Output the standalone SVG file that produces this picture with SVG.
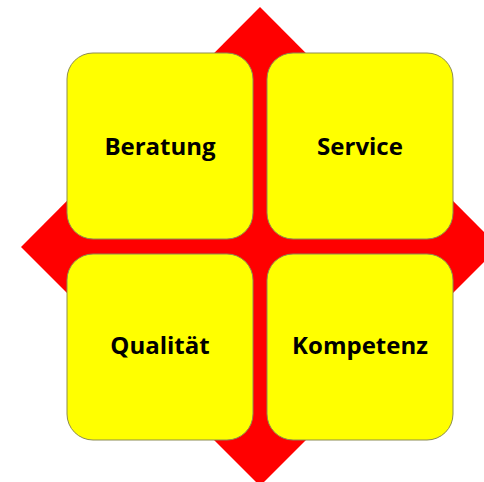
<svg xmlns="http://www.w3.org/2000/svg" width="484" height="482" viewBox="0 0 484 482">
<style>
.box{fill:#ffff00;stroke:#8c8c50;stroke-width:1}
.lbl{font-family:"Open Sans","Liberation Sans",sans-serif;font-weight:bold;font-size:24px;fill:#000;text-anchor:middle}
</style>
<rect width="484" height="482" fill="#fff"/>
<g id="diamond"><polygon points="260,7 499,247 260,486 21,247" fill="#ff0000"/></g>
<g id="connectors"></g>
<g id="beratung"><rect class="box" x="67" y="53" width="186" height="186" rx="26"/><text class="lbl" x="160" y="155">Beratung</text></g>
<g id="service"><rect class="box" x="267" y="53" width="186" height="186" rx="26"/><text class="lbl" x="360" y="155">Service</text></g>
<g id="qualitaet"><rect class="box" x="67" y="254" width="186" height="186" rx="26"/><text class="lbl" x="160" y="354">Qualität</text></g>
<g id="kompetenz"><rect class="box" x="267" y="254" width="186" height="186" rx="26"/><text class="lbl" x="360" y="354">Kompetenz</text></g>
</svg>
